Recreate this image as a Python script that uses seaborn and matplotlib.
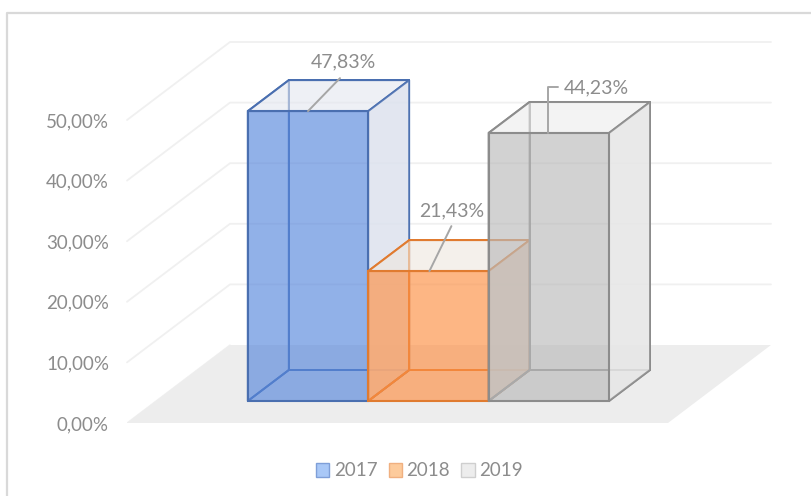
import pandas as pd
import seaborn as sns
import matplotlib.pyplot as plt
from matplotlib.colors import to_rgba
from matplotlib.lines import Line2D
from matplotlib.patches import Polygon, Patch

# Datos
years = ['2017', '2018', '2019']
values = [47.83, 21.43, 44.23]
value_labels = ['47,83%', '21,43%', '44,23%']
tick_values = [0, 10, 20, 30, 40, 50]
tick_labels = ['0,00%', '10,00%', '20,00%', '30,00%', '40,00%', '50,00%']

edge_colors = ['#4A6FB0', '#E07B30', '#8C8C8C']
front_colors = ['#5787DC', '#FD8F43', '#BABABA']
side_colors = ['#DDE2EE', '#E8C8B0', '#E6E6E6']
top_colors = ['#E3E6EF', '#EEE6DF', '#EBEBEB']
legend_colors = ['#A9C8F7', '#FDCB9C', '#EDEDED']
legend_edges = ['#7F9FD8', '#F0B080', '#CFCFCF']
text_color = '#8C8C8C'

W, H = 812, 496
PX_X = 120.4   # pixeles por categoria
PX_Y = 6.06    # pixeles por 1%
DX, DY = 41 / PX_X, 31 / PX_Y   # profundidad de cada barra
FRONT = 22 / PX_Y               # el 0 de la barra queda sobre el borde del suelo

sns.set_theme(style='white')
plt.rcParams['font.family'] = ['Lato', 'DejaVu Sans']

df = pd.DataFrame({'year': years, 'value': values})

fig = plt.figure(figsize=(W / 100, H / 100), dpi=100)
ax = fig.add_axes([127 / W, (H - 423) / H, (771 - 127) / W, (423 - 43) / H])

# Marco de la imagen
fig.add_artist(Line2D([7 / W, 7 / W, 1], [0, 1 - 13 / H, 1 - 13 / H], color='#D9D9D9', lw=1.6))

sns.barplot(data=df, x='year', y='value', hue='year', palette=front_colors, width=1.0,
            dodge=False, legend=False, saturation=1, ax=ax, zorder=10)
bars = sorted([b for b in ax.patches if b.get_height() > 0], key=lambda b: b.get_x())

ax.set_xlim((127 - 308) / PX_X, (771 - 308) / PX_X)
ax.set_ylim(-FRONT, (401 - 43) / PX_Y)
sns.despine(ax=ax, left=True, bottom=True)
ax.set_xlabel('')
ax.set_ylabel('')
ax.set_xticks([])
ax.set_yticks([v - FRONT for v in tick_values])
ax.set_yticklabels(tick_labels, color=text_color, fontsize=13.5)
ax.tick_params(axis='y', length=0, pad=13)

# Suelo y rejilla
x0, x1 = ax.get_xlim()
wall_dx = 103 / PX_X
wall_dy = 78 / PX_Y
ax.add_patch(Polygon([(x0, -FRONT), (x1 - wall_dx, -FRONT), (x1, -FRONT + wall_dy), (x0 + wall_dx, -FRONT + wall_dy)],
                     facecolor='#EDEDED', edgecolor='none', zorder=1))
for v in tick_values[1:]:
    ax.plot([x0, x0 + wall_dx, x1], [v - FRONT, v - FRONT + wall_dy, v - FRONT + wall_dy],
            color='#F0F0F0', lw=1.3, zorder=0, clip_on=False)
ax.plot([x0, x0 + wall_dx], [-FRONT, -FRONT + wall_dy], color='#F0F0F0', lw=1.0, zorder=0)

# Caras de cada caja 3D, a partir de las barras dibujadas
for i, bar in enumerate(bars):
    x, w, h = bar.get_x(), bar.get_width(), bar.get_height()
    z = 3 + 2 * i
    edge = edge_colors[i]
    # fondo, izquierda, suelo de la caja
    back = Polygon([(x + DX, DY), (x + w + DX, DY), (x + w + DX, h + DY), (x + DX, h + DY)],
                   facecolor='none', edgecolor=edge, lw=1.4, zorder=z)
    floor = Polygon([(x, 0), (x + w, 0), (x + w + DX, DY), (x + DX, DY)],
                    facecolor='none', edgecolor=edge, lw=1.4, zorder=z)
    top = Polygon([(x, h), (x + w, h), (x + w + DX, h + DY), (x + DX, h + DY)],
                  facecolor=to_rgba(top_colors[i], 0.6), edgecolor=edge, lw=1.4, zorder=z)
    side = Polygon([(x + w, 0), (x + w + DX, DY), (x + w + DX, h + DY), (x + w, h)],
                   facecolor=side_colors[i], edgecolor=edge, lw=1.4, alpha=0.85, zorder=z)
    left = Polygon([(x, 0), (x + DX, DY), (x + DX, h + DY), (x, h)],
                   facecolor='none', edgecolor=edge, lw=1.4, zorder=z)
    for p in [floor, back, left, top, side]:
        ax.add_patch(p)
    bar.set_facecolor(to_rgba(front_colors[i], 0.65))
    bar.set_edgecolor(edge)
    bar.set_linewidth(1.5)
    bar.set_zorder(z + 1)

# Etiquetas de datos con linea guia
label_color = '#A6A6A6'
px = lambda b, dx: b.get_x() + b.get_width() / 2 + dx / PX_X
ax.plot([px(bars[0], 0), px(bars[0], 32)], [values[0], values[0] + 33 / PX_Y], color=label_color, lw=1.4, zorder=20)
ax.text(px(bars[0], 35), values[0] + 49 / PX_Y, value_labels[0], ha='center', va='center',
        color=text_color, fontsize=14, zorder=20)
ax.plot([px(bars[1], 1), px(bars[1], 23)], [values[1], values[1] + 45 / PX_Y], color=label_color, lw=1.4, zorder=20)
ax.text(px(bars[1], 23), values[1] + 60 / PX_Y, value_labels[1], ha='center', va='center',
        color=text_color, fontsize=14, zorder=20)
ax.plot([px(bars[2], -1), px(bars[2], -1), px(bars[2], 9)],
        [values[2], values[2] + 46 / PX_Y, values[2] + 46 / PX_Y], color=label_color, lw=1.4, zorder=20)
ax.text(px(bars[2], 48), values[2] + 45 / PX_Y, value_labels[2], ha='center', va='center',
        color=text_color, fontsize=14, zorder=20)

# Leyenda
handles = [Patch(facecolor=c, edgecolor=e, label=y) for c, e, y in zip(legend_colors, legend_edges, years)]
fig.legend(handles=handles, ncols=3, loc='center', bbox_to_anchor=(419.5 / W, 1 - 471 / H), frameon=False,
           fontsize=13.5, labelcolor=text_color, handlelength=0.7, handleheight=0.7,
           handletextpad=0.25, columnspacing=0.6)

fig.savefig('out.png', dpi=100)
